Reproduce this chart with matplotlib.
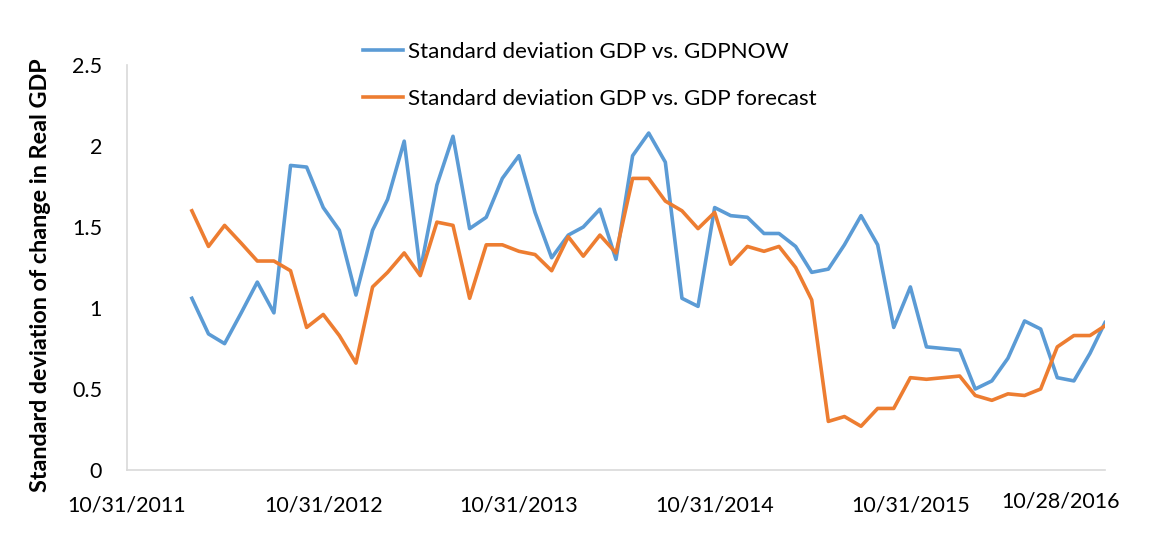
import pandas as pd
import matplotlib
matplotlib.use("Agg")
import matplotlib.pyplot as plt
import matplotlib.dates as mdates
from matplotlib.transforms import ScaledTranslation

plt.rcParams['font.family'] = ['Lato', 'DejaVu Sans']

# month-end observations Feb 2012 .. Sep 2016, plus the last one on 10/28/2016
dates = list(pd.date_range('2012-02-29', '2016-09-30', freq='ME')) + [pd.Timestamp('2016-10-28')]

gdpnow_sd = [1.06, 0.84, 0.78, 0.97, 1.16, 0.97, 1.88, 1.87, 1.62, 1.48,
             1.08, 1.48, 1.67, 2.03, 1.23, 1.76, 2.06, 1.49, 1.56, 1.80,
             1.94, 1.59, 1.31, 1.45, 1.50, 1.61, 1.30, 1.94, 2.08, 1.90,
             1.06, 1.01, 1.62, 1.57, 1.56, 1.46, 1.46, 1.38, 1.22, 1.24,
             1.39, 1.57, 1.39, 0.88, 1.13, 0.76, 0.75, 0.74, 0.50, 0.55,
             0.69, 0.92, 0.87, 0.57, 0.55, 0.72, 0.91]

forecast_sd = [1.60, 1.38, 1.51, 1.40, 1.29, 1.29, 1.23, 0.88, 0.96, 0.83,
               0.66, 1.13, 1.22, 1.34, 1.20, 1.53, 1.51, 1.06, 1.39, 1.39,
               1.35, 1.33, 1.23, 1.44, 1.32, 1.45, 1.34, 1.80, 1.80, 1.66,
               1.60, 1.49, 1.59, 1.27, 1.38, 1.35, 1.38, 1.25, 1.05, 0.30,
               0.33, 0.27, 0.38, 0.38, 0.57, 0.56, 0.57, 0.58, 0.46, 0.43,
               0.47, 0.46, 0.50, 0.76, 0.83, 0.83, 0.89]

tick_dates = ['2011-10-31', '2012-10-31', '2013-10-31', '2014-10-31', '2015-10-31', '2016-10-28']
tick_labels = ['10/31/2011', '10/31/2012', '10/31/2013', '10/31/2014', '10/31/2015', '10/28/2016']
y_ticks = [0, 0.5, 1, 1.5, 2, 2.5]
y_labels = ['0', '0.5', '1', '1.5', '2', '2.5']

fig = plt.figure(figsize=(11.5, 5.59), dpi=100)
ax = fig.add_axes([127/1150, 89/559, 978/1150, 405/559])

l1, = ax.plot(dates, gdpnow_sd, color='#5B9BD5', lw=2.6, solid_joinstyle='round',
              label='Standard deviation GDP vs. GDPNOW')
l2, = ax.plot(dates, forecast_sd, color='#ED7D31', lw=2.6, solid_joinstyle='round',
              label='Standard deviation GDP vs. GDP forecast')

ax.set_xlim(pd.Timestamp('2011-10-31'), pd.Timestamp('2016-10-28'))
ax.set_ylim(0, 2.5)
ax.set_xticks([pd.Timestamp(d) for d in tick_dates])
ax.set_xticklabels(tick_labels)
ax.set_yticks(y_ticks)
ax.set_yticklabels(y_labels)
ax.tick_params(axis='x', length=0, pad=18, labelsize=15.5, colors='black')
ax.tick_params(axis='y', length=0, pad=18, labelsize=15.5, colors='black')

for s in ['top', 'right']:
    ax.spines[s].set_visible(False)
for s in ['left', 'bottom']:
    ax.spines[s].set_color('#d9d9d9')
    ax.spines[s].set_linewidth(1.2)

# Excel pulls the last date label inward to keep it inside the chart
last = ax.get_xticklabels()[-1]
last.set_transform(last.get_transform() + ScaledTranslation(-44/100, 3/100, fig.dpi_scale_trans))

fig.text(41/1150, 1 - 275/559, 'Standard deviation of change in Real GDP', rotation=90,
         ha='center', va='center', fontsize=16.8, fontweight='bold')

fig.legend(handles=[l1, l2], loc='upper left', bbox_to_anchor=(363/1150, 1 - 42/559),
           frameon=False, fontsize=16.1, handlelength=1.8, handletextpad=0.2,
           labelspacing=1.2, borderpad=0, borderaxespad=0)

fig.savefig('out.png', dpi=100)
